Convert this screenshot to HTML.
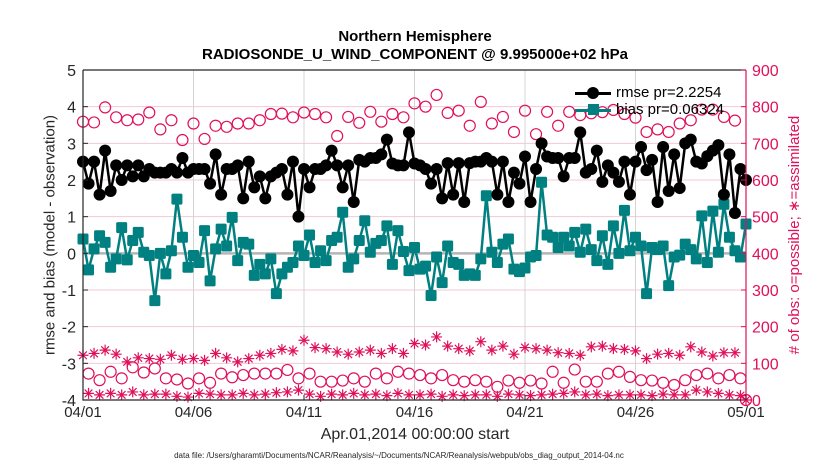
<!DOCTYPE html>
<html><head><meta charset="utf-8"><style>
html,body{margin:0;padding:0;background:#fff;}
svg{display:block;font-family:"Liberation Sans",sans-serif;}
</style></head><body>
<svg id="chart" width="830" height="470" viewBox="0 0 830 470"></svg>
<script>
const ticksLeft=[-4,-3,-2,-1,0,1,2,3,4,5];
const ticksRight=[0,100,200,300,400,500,600,700,800,900];
const xTickLabels=["04/01","04/06","04/11","04/16","04/21","04/26","05/01"];
const xTickDays=[0,5,10,15,20,25,30];
const rmse=[2.5,1.9,2.5,1.6,2.8,1.7,2.4,2.0,2.4,2.1,2.4,2.1,2.3,2.2,2.2,2.2,2.3,2.2,2.6,2.2,
2.3,2.3,2.3,1.9,2.7,1.6,2.3,2.3,2.4,1.5,2.5,1.8,2.1,1.5,2.1,2.2,2.3,1.6,2.5,1.0,
2.3,1.8,2.3,2.3,2.4,2.8,2.4,1.8,2.4,1.4,2.55,2.5,2.6,2.6,2.7,3.1,2.45,2.4,2.4,3.3,
2.45,2.4,2.3,1.9,2.3,1.5,2.46,1.6,2.46,1.4,2.46,2.5,2.5,2.6,2.5,1.6,2.5,1.4,2.2,1.9,
2.64,1.4,2.3,3.0,2.64,2.6,2.6,2.1,2.6,2.6,3.3,2.2,2.3,2.8,1.95,2.4,2.2,1.95,2.5,1.6,
2.5,2.9,2.27,2.55,1.4,2.9,1.7,2.7,1.78,3.0,3.1,2.5,2.45,2.65,2.8,2.95,1.6,2.7,1.1,2.3,2.0];
const bias=[0.39,-0.45,0.12,0.48,0.3,-0.38,-0.15,0.7,-0.18,0.35,0.57,0.03,-0.06,-1.29,0,-0.56,0.07,1.48,0.44,-0.38,
-0.06,-0.25,0.62,-0.75,0.12,0.66,0.2,0.98,-0.2,0.3,0.25,-0.6,-0.3,-0.56,-0.15,-1.1,-0.56,-0.38,-0.25,0.2,
-0.06,0.5,-0.25,0.07,-0.2,0.35,0.44,1.12,-0.38,-0.15,0.35,0.89,0.03,0.27,0.35,0.75,-0.3,0.62,0.05,-0.47,
0.16,-0.43,-0.35,-1.15,-0.1,-0.8,0.2,-0.25,-0.3,-0.6,-0.56,-0.6,-0.15,1.57,0.03,-0.25,0.25,0.39,-0.43,-0.5,
-0.4,-0.1,-0.06,1.94,0.5,0.44,0.16,0.44,0.2,0.57,0.03,0.66,0.1,-0.2,0.48,-0.3,0.75,0.0,1.17,0.07,
0.44,0.2,-1.1,0.16,0.1,0.2,-0.88,-0.1,-0.05,0.25,0.1,-0.15,1.02,-0.25,1.15,0.03,1.34,0.44,0.07,-0.1,0.8];
const possibleHigh=[759,757,798,771,763,765,784,738,763,709,754,712,748,745,754,754,763,780,781,771,784,780,771,720,772,756,786,759,780,771,
809,800,832,783,789,748,813,754,772,731,789,725,786,748,786,777,782,785,791,780,770,731,738,731,754,763,792,792,772,762,0];
const possibleLow=[72,54,77,59,89,75,86,59,56,45,59,47,72,62,68,72,72,72,82,59,72,50,50,53,59,50,72,59,77,72,
68,59,68,54,50,54,50,36,53,47,53,45,77,47,83,50,50,72,77,63,54,53,47,41,54,68,72,59,68,59];
const assimHigh=[122,127,136,125,104,115,113,111,122,111,113,108,127,115,104,113,122,127,138,134,163,143,140,131,125,131,136,127,140,127,
154,150,172,147,140,134,159,136,147,125,143,140,136,129,127,122,145,147,140,138,134,113,125,127,122,145,131,120,129,129,0];
const assimLow=[18,14,18,14,22,14,16,16,10,8,18,16,14,14,18,14,16,20,22,27,16,10,16,14,18,14,16,12,18,14,
14,16,10,14,12,14,14,10,16,14,12,14,16,18,22,14,16,12,14,14,14,12,16,14,14,27,22,18,14,12];
const possible=[],assim=[];
for(let i=0;i<121;i++){
  if(i%2===0){possible.push(possibleHigh[i/2]);assim.push(assimHigh[i/2]);}
  else{possible.push(possibleLow[(i-1)/2]);assim.push(assimLow[(i-1)/2]);}
}
const NS="http://www.w3.org/2000/svg";
const svg=document.getElementById('chart');
const X0=83,X1=746,YT=70,YB=400;
const PINK="#e0105a",TEAL="#008080";
const xs=i=>X0+(X1-X0)*i/120;
const xd=d=>X0+(X1-X0)*d/30;
const yl=v=>YB-(v+4)/9*(YB-YT);
const yr=v=>YB-v/900*(YB-YT);
function mk(tag,attrs,parent){const e=document.createElementNS(NS,tag);for(const k in attrs)e.setAttribute(k,attrs[k]);(parent||svg).appendChild(e);return e;}
function txt(s,attrs){const e=mk('text',attrs);e.textContent=s;return e;}
ticksRight.forEach(v=>{const g=mk('line',{x1:X0,x2:X1,y1:yr(v),y2:yr(v),stroke:"#f3c9d8","stroke-width":1});

});
xTickDays.forEach(d=>{const g=mk('line',{x1:xd(d),x2:xd(d),y1:YT,y2:YB,stroke:"#d4d4d4","stroke-width":1});

});
const z=mk('line',{x1:X0,x2:X1,y1:yl(0),y2:yl(0),stroke:"#b4b4b4","stroke-width":2.5});


const cg=mk('g',{});


possible.forEach((v,i)=>{const c=mk('circle',{cx:xs(i),cy:yr(v),r:5.5,fill:"none",stroke:PINK,"stroke-width":1.2},cg);

});
assim.forEach((v,i)=>{const x=xs(i),y=yr(v),r=5.5;
const p=mk('path',{d:`M${x-r} ${y}H${x+r}M${x} ${y-r}V${y+r}M${x-r*0.7} ${y-r*0.7}L${x+r*0.7} ${y+r*0.7}M${x-r*0.7} ${y+r*0.7}L${x+r*0.7} ${y-r*0.7}`,stroke:PINK,"stroke-width":1.2,fill:"none"},cg);

});
const bl=mk('polyline',{points:bias.map((v,i)=>xs(i)+","+yl(v)).join(" "),fill:"none",stroke:TEAL,"stroke-width":2.5});


bias.forEach((v,i)=>{const s=mk('rect',{x:xs(i)-5.5,y:yl(v)-5.5,width:11,height:11,rx:1.5,fill:TEAL});

});
const rl=mk('polyline',{points:rmse.map((v,i)=>xs(i)+","+yl(v)).join(" "),fill:"none",stroke:"#000","stroke-width":2.5});


rmse.forEach((v,i)=>{const c=mk('circle',{cx:xs(i),cy:yl(v),r:6,fill:"#000"});

});
const ax=mk('path',{d:`M${X0} ${YT}H${X1}M${X0} ${YT}V${YB}H${X1}`,stroke:"#262626","stroke-width":1.2,fill:"none"});


const ra=mk('line',{x1:X1,x2:X1,y1:YT,y2:YB,stroke:PINK,"stroke-width":1.2});


ticksLeft.forEach(v=>{mk('line',{x1:X0,x2:X0+5,y1:yl(v),y2:yl(v),stroke:"#262626"});
const t=txt(String(v),{x:X0-7,y:yl(v)+6,"text-anchor":"end","font-size":16,fill:"#262626"});

});
ticksRight.forEach(v=>{mk('line',{x1:X1-5,x2:X1,y1:yr(v),y2:yr(v),stroke:PINK});
const t=txt(String(v),{x:X1+6,y:yr(v)+6,"font-size":16,fill:PINK});

});
xTickDays.forEach((d,k)=>{mk('line',{x1:xd(d),x2:xd(d),y1:YB-5,y2:YB,stroke:"#262626"});
const t=txt(xTickLabels[k],{x:xd(d),y:417,"text-anchor":"middle","font-size":15,fill:"#262626"});

});
</script>
<div style="position:absolute;left:0;top:0;width:830px;height:470px;pointer-events:none;font-family:'Liberation Sans',sans-serif;color:#000;">
<div style="position:absolute;left:0;width:830px;top:28px;text-align:center;font-weight:bold;font-size:15px;line-height:18px;">Northern Hemisphere<br>RADIOSONDE_U_WIND_COMPONENT @ 9.995000e+02 hPa</div>
<div style="position:absolute;left:0;width:830px;top:426px;text-align:center;font-size:16px;color:#262626;">Apr.01,2014 00:00:00 start</div>
<div style="position:absolute;left:-16px;width:830px;top:451px;text-align:center;font-size:8px;color:#262626;">data file: /Users/gharamti/Documents/NCAR/Reanalysis/~/Documents/NCAR/Reanalysis/webpub/obs_diag_output_2014-04.nc</div>
<div style="position:absolute;left:50px;top:235px;transform:translate(-50%,-50%) rotate(-90deg);white-space:nowrap;font-size:15px;color:#262626;">rmse and bias (model - observation)</div>
<div style="position:absolute;left:794px;top:235px;transform:translate(-50%,-50%) rotate(-90deg);white-space:nowrap;font-size:15px;color:#e0105a;"># of obs: o=possible; ∗=assimilated</div>
<div style="position:absolute;left:575px;top:84px;width:170px;height:34px;font-size:15px;line-height:17px;">
<div style="position:relative;height:17px;"><span style="position:absolute;left:0;top:8px;width:36px;height:2.5px;background:#000"></span><span style="position:absolute;left:12px;top:3px;width:12px;height:12px;border-radius:50%;background:#000"></span><span style="position:absolute;left:41px;top:0">rmse pr=2.2254</span></div>
<div style="position:relative;height:17px;"><span style="position:absolute;left:0;top:8px;width:36px;height:2.5px;background:#008080"></span><span style="position:absolute;left:13px;top:3px;width:11px;height:11px;background:#008080"></span><span style="position:absolute;left:41px;top:0">bias pr=0.06324</span></div>
</div>
</div>
</body></html>
